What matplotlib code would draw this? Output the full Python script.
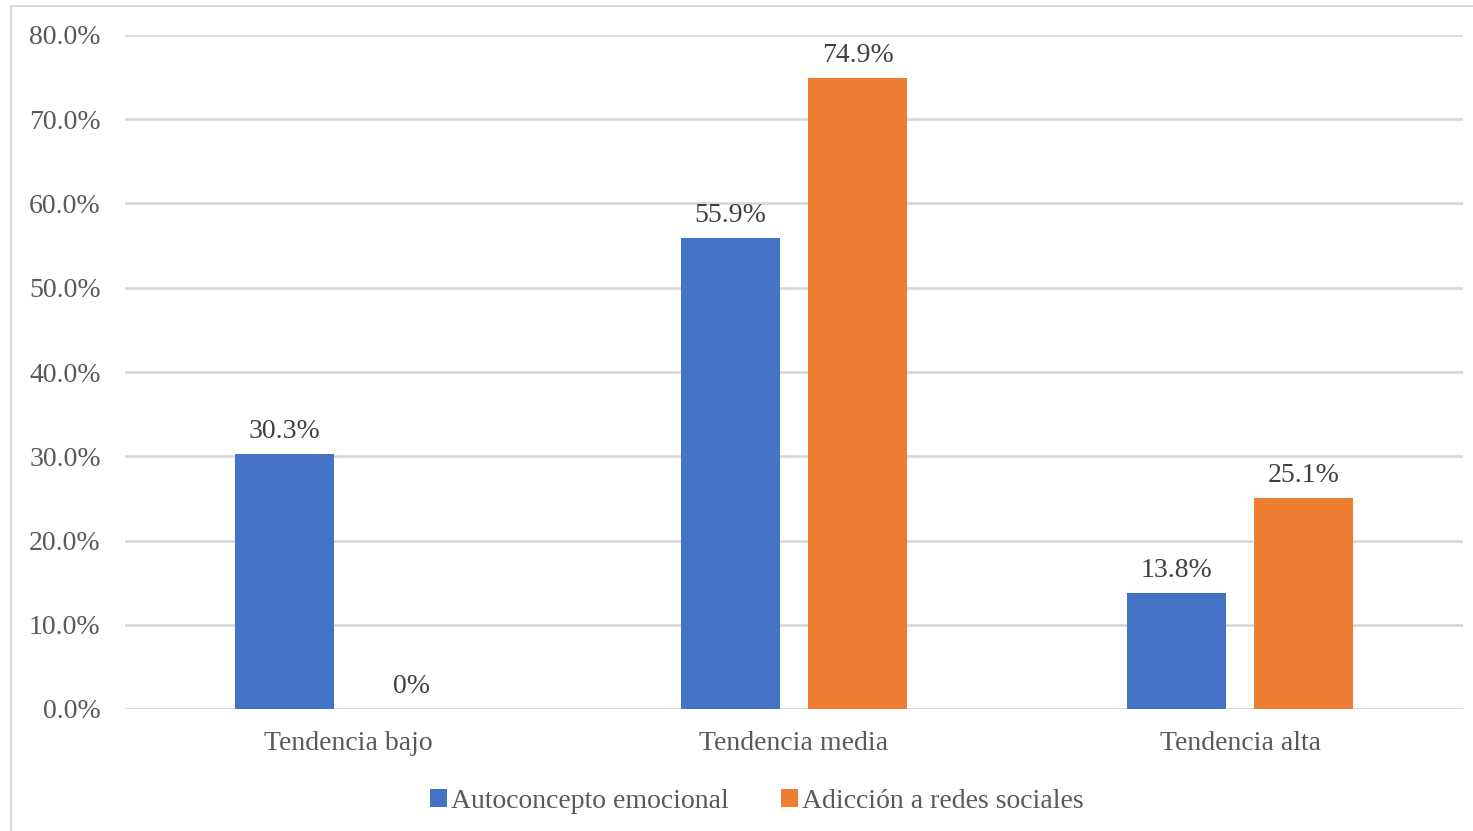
import matplotlib
matplotlib.use("Agg")
import matplotlib.pyplot as plt
from matplotlib.patches import Rectangle
import numpy as np

categories = ["Tendencia bajo", "Tendencia media", "Tendencia alta"]
series_names = ["Autoconcepto emocional", "Adicción a redes sociales"]
autoconcepto = [30.3, 55.9, 13.8]
adiccion = [0.0, 74.9, 25.1]
label_auto = ["30.3%", "55.9%", "13.8%"]
label_adic = ["0%", "74.9%", "25.1%"]
yticks = [0, 10, 20, 30, 40, 50, 60, 70, 80]

colors = ["#4472C4", "#ED7D31"]
text_color = "#595959"
grid_color = "#D9D9D9"

plt.rcParams["font.family"] = ["Liberation Serif", "DejaVu Serif"]

fig = plt.figure(figsize=(14.73, 8.31), dpi=100)
ax = fig.add_axes([125 / 1473, 1 - 709 / 831, (1463 - 125) / 1473, (709 - 35) / 831])

# chart-area border
fig.patches.append(Rectangle((11 / 1473, -0.1), 1.2, 1 - 6 / 831 + 0.1,
                             transform=fig.transFigure, fill=False,
                             edgecolor=grid_color, linewidth=1.5))

x = np.arange(len(categories))
width = 0.224
offset = 0.1424

bars1 = ax.bar(x - offset, autoconcepto, width, color=colors[0], label=series_names[0], zorder=3)
bars2 = ax.bar(x + offset, adiccion, width, color=colors[1], label=series_names[1], zorder=3)

for bars, labels in ((bars1, label_auto), (bars2, label_adic)):
    for b, lab in zip(bars, labels):
        ax.annotate(lab, (b.get_x() + b.get_width() / 2, b.get_height()),
                    xytext=(0, 7), textcoords="offset points",
                    ha="center", va="bottom", fontsize=20, color="#404040")

ax.set_xlim(-0.5, 2.5)
ax.set_ylim(0, 80)
ax.set_yticks(yticks)
ax.set_yticklabels([f"{v:.1f}%" for v in yticks])
ax.set_xticks(x)
ax.set_xticklabels(categories)
ax.tick_params(axis="both", length=0, labelsize=20, labelcolor=text_color)
ax.tick_params(axis="y", pad=17.5)
ax.tick_params(axis="x", pad=16)

ax.yaxis.grid(True, color=grid_color, linewidth=2, zorder=0)
ax.set_axisbelow(True)
for s in ax.spines.values():
    s.set_visible(False)

leg = fig.legend(loc="center", bbox_to_anchor=(757 / 1473, 1 - 801 / 831), ncol=2,
                 frameon=False, fontsize=20, handlelength=0.6, handleheight=0.6,
                 handletextpad=0.15, columnspacing=1.9)
for t in leg.get_texts():
    t.set_color(text_color)

fig.savefig("out.png", dpi=100)
